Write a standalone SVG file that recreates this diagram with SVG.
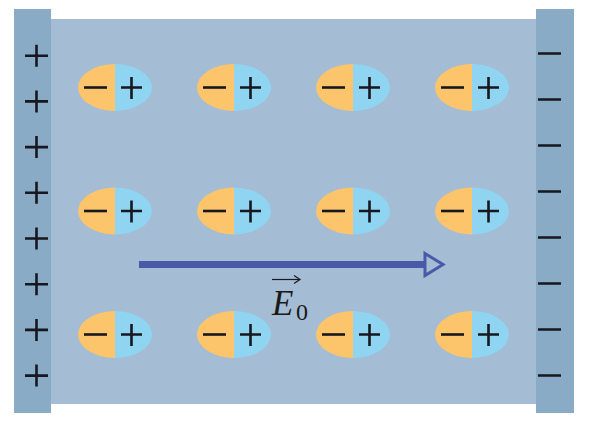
<svg xmlns="http://www.w3.org/2000/svg" width="592" height="434" viewBox="0 0 592 434">
<defs>
<style>
.plate{fill:#8aabc6}
.diel{fill:#a4bcd4}
.neg{fill:#fcc56b}
.pos{fill:#8fd4f1}
.sg{stroke:#17171f;stroke-width:2.6;fill:none}
.lbl{font-family:"Liberation Serif",serif;fill:#1a1a1a}
</style>
<clipPath id="cl"><rect x="-40" y="-30" width="40" height="60"/></clipPath>
<clipPath id="cr"><rect x="0" y="-30" width="40" height="60"/></clipPath>
<g id="dip">
<ellipse cx="0" cy="0" rx="37" ry="23.5" class="neg" clip-path="url(#cl)"/>
<ellipse cx="0" cy="0" rx="37" ry="23.5" class="pos" clip-path="url(#cr)"/>
<path d="M-31 0H-8" class="sg" stroke-width="3"/>
<path d="M6 0H27M16.5 -10.5V11.5" class="sg"/>
</g>
</defs>
<rect width="592" height="434" fill="#ffffff"/>
<rect x="51" y="19" width="485" height="385" class="diel"/>
<g id="plate-left">
<rect x="14" y="9" width="37" height="404" class="plate"/>
<path class="sg" d="M25 55.7H48M36.5 44.7V66.7 M25 101.4H48M36.5 90.4V112.4 M25 147.1H48M36.5 136.1V158.1 M25 192.8H48M36.5 181.8V203.8 M25 238.5H48M36.5 227.5V249.5 M25 284.2H48M36.5 273.2V295.2 M25 329.9H48M36.5 318.9V340.9 M25 375.6H48M36.5 364.6V386.6"/>
</g>
<g id="plate-right">
<rect x="536" y="9" width="38" height="404" class="plate"/>
<path class="sg" stroke-width="3" d="M538 53.5H561 M538 99.5H561 M538 145.5H561 M538 191.5H561 M538 237.5H561 M538 283.5H561 M538 329.5H561 M538 375.5H561"/>
</g>
<g id="dipoles">
<use href="#dip" x="115" y="87.5"/>
<use href="#dip" x="234" y="87.5"/>
<use href="#dip" x="353" y="87.5"/>
<use href="#dip" x="472" y="87.5"/>
<use href="#dip" x="115" y="211"/>
<use href="#dip" x="234" y="211"/>
<use href="#dip" x="353" y="211"/>
<use href="#dip" x="472" y="211"/>
<use href="#dip" x="115" y="334.5"/>
<use href="#dip" x="234" y="334.5"/>
<use href="#dip" x="353" y="334.5"/>
<use href="#dip" x="472" y="334.5"/>
</g>
<g id="connectors">
<path d="M139 264.5H425" stroke="#4a5aa9" stroke-width="7" fill="none"/>
<path d="M425 253.5L443 264.5L425 275.5Z" fill="none" stroke="#4a5aa9" stroke-width="3"/>
</g>
<g id="label">
<text x="272" y="315" class="lbl" font-size="35" font-style="italic">E</text>
<text x="296" y="320" class="lbl" font-size="24">0</text>
<path d="M272 279.5H299" stroke="#1a1a1a" stroke-width="1.2"/>
<path d="M294 275.5L300 279.5L294 283.5" stroke="#1a1a1a" stroke-width="1.2" fill="none"/>
</g>
</svg>
